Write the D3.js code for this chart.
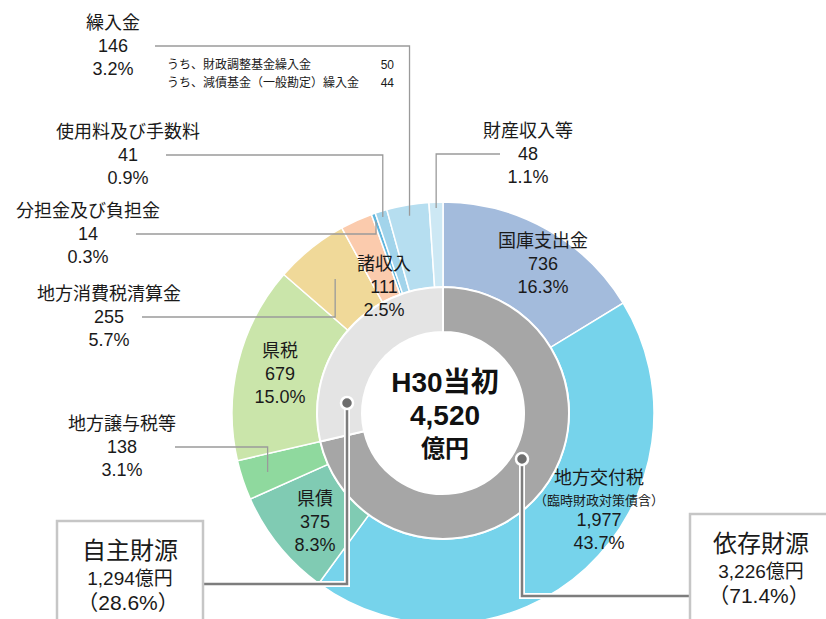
<!DOCTYPE html>
<html>
<meta charset="utf-8">
<style>
  body { margin: 0; padding: 0; background: #fff; }
  svg { display: block; }
  text { font-family: "Liberation Sans", Arial, "Noto Sans CJK JP", sans-serif; fill: #1a1a1a; }
</style>
<body>
<svg id="chart" width="826" height="619"></svg>
<script src="https://cdn.jsdelivr.net/npm/d3@7"></script>
<script>
// 歳入内訳（H30当初、億円）
var names = ["国庫支出金", "地方交付税", "県債", "地方譲与税等", "県税", "地方消費税清算金",
             "諸収入", "分担金及び負担金", "使用料及び手数料", "繰入金", "財産収入等"];
var values = [736, 1977, 375, 138, 679, 255, 111, 14, 41, 146, 48];
var percents = ["16.3%", "43.7%", "8.3%", "3.1%", "15.0%", "5.7%", "2.5%", "0.3%", "0.9%", "3.2%", "1.1%"];
var colors = ["#a3bbdc", "#76d3eb", "#80cbb3", "#8fd99e", "#cae5aa", "#f0d999", "#fbcbad",
              "#5fb6de", "#a2d4eb", "#b6def0", "#cde8f4"];

// 内側：財源区分
var groupNames = ["依存財源", "自主財源"];
var groupValues = [3226, 1294];
var groupPercents = ["（71.4%）", "（28.6%）"];
var groupColors = ["#a6a6a6", "#e4e4e4"];

var centerTitle = ["H30当初", "4,520", "億円"];
var kurireNote = [["うち、財政調整基金繰入金", "50"], ["うち、減債基金（一般勘定）繰入金", "44"]];

var fmt = d3.format(",");

var svg = d3.select("#chart");
var cx = 443, cy = 413;
var rOuter = 211, rMid = 126, rInner = 81;

var g = svg.append("g").attr("transform", "translate(" + cx + "," + cy + ")");

var pie = d3.pie().sort(null).value(function(d) { return d; });
var arcs = pie(values);
var groupArcs = pie(groupValues);

var outerArc = d3.arc().innerRadius(rMid).outerRadius(rOuter);
var innerArc = d3.arc().innerRadius(rInner).outerRadius(rMid);

g.selectAll(".slice")
  .data(arcs)
  .enter().append("path")
    .attr("class", "slice")
    .attr("d", outerArc)
    .attr("fill", function(d, i) { return colors[i]; })
    .attr("stroke", "#fff")
    .attr("stroke-width", 1.5);

g.selectAll(".group")
  .data(groupArcs)
  .enter().append("path")
    .attr("class", "group")
    .attr("d", innerArc)
    .attr("fill", function(d, i) { return groupColors[i]; })
    .attr("stroke", "#fff")
    .attr("stroke-width", 2);

// point on ring for a slice (mid angle, radius r), in page coords
function ringPoint(i, r) {
  var a = (arcs[i].startAngle + arcs[i].endAngle) / 2;
  return [cx + r * Math.sin(a), cy - r * Math.cos(a)];
}

// label layout: x center, first baseline, inside or outside, leader
var labelPos = {
  "国庫支出金":       {x: 543, y: 247},
  "地方交付税":       {x: 599, y: 484, note: "（臨時財政対策債含）"},
  "県債":             {x: 315, y: 505},
  "地方譲与税等":     {x: 122, y: 430, lead: {x0: 175, r: 185}},
  "県税":             {x: 280, y: 357},
  "地方消費税清算金": {x: 109, y: 300, lead: {x0: 142, r: 172}},
  "諸収入":           {x: 384, y: 270},
  "分担金及び負担金": {x: 88,  y: 217, lead: {x0: 136, r: 203}},
  "使用料及び手数料": {x: 128, y: 138, lead: {x0: 166, r: 205}},
  "繰入金":           {x: 113, y: 29,  lead: {x0: 155, r: 200}},
  "財産収入等":       {x: 528, y: 137, lead: {x0: 500, r: 205}}
};

var lineH = 23;

names.forEach(function(name, i) {
  var p = labelPos[name];
  var t = svg.append("text")
    .attr("text-anchor", "middle")
    .style("font-size", "18px");
  var rows = [name];
  if (p.note) rows.push(p.note);
  rows.push(fmt(values[i]), percents[i]);
  var y = p.y;
  rows.forEach(function(r, k) {
    if (k > 0) y += (p.note && k <= 2) ? 21 : lineH;
    svg.append("text")
      .attr("x", p.x)
      .attr("y", y)
      .attr("text-anchor", "middle")
      .style("font-size", (p.note && k === 1) ? "13px" : "18px")
      .text(r);
  });
  t.remove();

  if (p.lead) {
    var end = ringPoint(i, p.lead.r);
    var ly = p.y + lineH - 6;
    svg.append("path")
      .attr("d", "M" + p.lead.x0 + "," + ly + "H" + end[0] + "V" + end[1])
      .attr("fill", "none")
      .attr("stroke", "#9a9a9a")
      .attr("stroke-width", 1.3);
  }
});

// 繰入金の内訳
kurireNote.forEach(function(row, k) {
  var y = 69 + k * 18;
  svg.append("text").attr("x", 167).attr("y", y)
    .style("font-size", "12px").text(row[0]);
  svg.append("text").attr("x", 394).attr("y", y).attr("text-anchor", "end")
    .style("font-size", "12px").text(row[1]);
});

// center title
var centerSizes = [28, 28, 24];
var centerY = [392, 425, 457];
centerTitle.forEach(function(s, k) {
  svg.append("text")
    .attr("x", cx + 2)
    .attr("y", centerY[k])
    .attr("text-anchor", "middle")
    .style("font-size", centerSizes[k] + "px")
    .style("font-weight", "bold")
    .style("fill", "#111")
    .text(s);
});

// 財源区分ボックスと引出線
var boxes = [
  {x: 690, y: 514, w: 150, h: 120, tx: 761, dot: [522, 459], elbowY: 596, sideX: 690},
  {x: 57,  y: 521, w: 146, h: 120, tx: 130, dot: [347, 403], elbowY: 584, sideX: 203}
];

boxes.forEach(function(b, i) {
  var path = "M" + b.dot[0] + "," + b.dot[1] + "V" + b.elbowY + "H" + b.sideX;
  svg.append("path").attr("d", path).attr("fill", "none")
    .attr("stroke", "#fff").attr("stroke-width", 6);
  svg.append("path").attr("d", path).attr("fill", "none")
    .attr("stroke", "#7d7d7d").attr("stroke-width", 2.5);
  svg.append("circle")
    .attr("cx", b.dot[0]).attr("cy", b.dot[1]).attr("r", 6)
    .attr("fill", "#6e6e6e").attr("stroke", "#fff").attr("stroke-width", 2.5);

  svg.append("rect")
    .attr("x", b.x).attr("y", b.y).attr("width", b.w).attr("height", b.h)
    .attr("fill", "#fff").attr("stroke", "#c6c6c6").attr("stroke-width", 2.5);

  svg.append("text").attr("x", b.tx).attr("y", b.y + 38)
    .attr("text-anchor", "middle").style("font-size", "24px").text(groupNames[i]);
  svg.append("text").attr("x", b.tx).attr("y", b.y + 64)
    .attr("text-anchor", "middle").style("font-size", "19px").text(fmt(groupValues[i]) + "億円");
  svg.append("text").attr("x", b.tx - 2).attr("y", b.y + 89)
    .attr("text-anchor", "middle").style("font-size", "21px").text(groupPercents[i]);
});
</script>
</body>
</html>
